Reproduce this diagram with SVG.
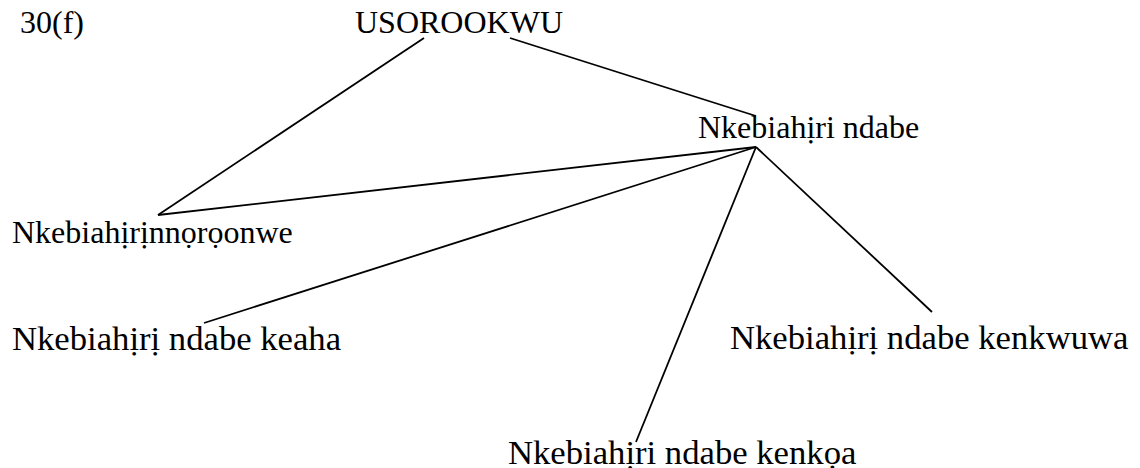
<svg xmlns="http://www.w3.org/2000/svg" width="1140" height="468" viewBox="0 0 1140 468">
<style>
  .t { font-family: "Liberation Serif", "Times New Roman", serif; fill: #000; }
  .s { font-size: 32px; }
  .l { font-size: 34.67px; }
  .c line { stroke: #000; stroke-width: 1.8; fill: none; stroke-linecap: butt; }
</style>
<rect x="0" y="0" width="1140" height="468" fill="#fff"/>
<g id="connectors" class="c">
  <line x1="424" y1="38" x2="158" y2="215"/>
  <line x1="510" y1="38" x2="756" y2="116"/>
  <line x1="756" y1="147" x2="158" y2="215"/>
  <line x1="756" y1="147" x2="204" y2="323"/>
  <line x1="756" y1="147" x2="636" y2="442"/>
  <line x1="756" y1="147" x2="932" y2="312"/>
</g>
<g id="label-30f"><text class="t s" x="20" y="33">30(f)</text></g>
<g id="node-usorookwu"><text class="t s" x="355" y="33">USOROOKWU</text></g>
<g id="node-ndabe"><text class="t s" x="698" y="138">Nkebiahịri ndabe</text></g>
<g id="node-nnoroonwe"><text class="t s" x="12" y="243">Nkebiahịrịnnọrọonwe</text></g>
<g id="node-keaha"><text class="t l" x="12" y="350">Nkebiahịrị ndabe keaha</text></g>
<g id="node-kenkwuwa"><text class="t l" x="730" y="349">Nkebiahịrị ndabe kenkwuwa</text></g>
<g id="node-kenkoa"><text class="t l" x="508" y="464">Nkebiahịri ndabe kenkọa</text></g>
</svg>
